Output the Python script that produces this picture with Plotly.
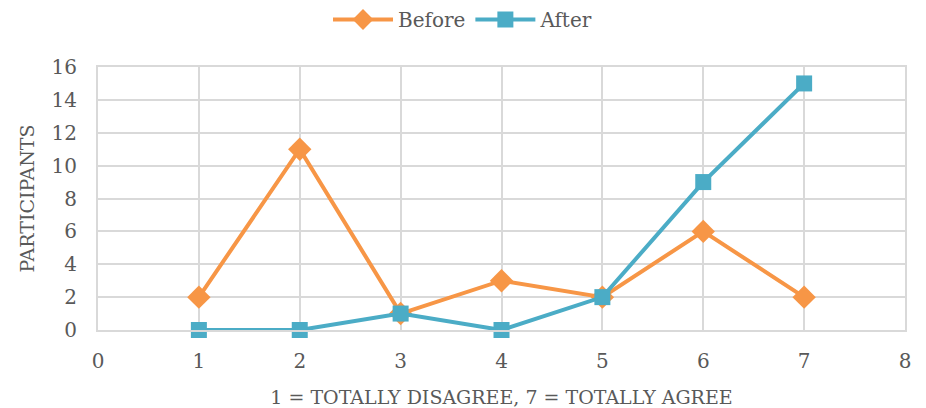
import plotly.graph_objects as go

# Survey responses on a 1-7 agreement scale
scale = [1, 2, 3, 4, 5, 6, 7]
before = [2, 11, 1, 3, 2, 6, 2]
after = [0, 0, 1, 0, 2, 9, 15]

x_ticks = [0, 1, 2, 3, 4, 5, 6, 7, 8]
y_ticks = [0, 2, 4, 6, 8, 10, 12, 14, 16]

ORANGE = "#F79646"
BLUE = "#4BACC6"
GRID = "#D9D9D9"
TEXT = "#595959"
FONT = "DejaVu Serif"

fig = go.Figure()
fig.add_trace(go.Scatter(
    x=scale, y=before, name="Before", mode="lines+markers",
    line=dict(color=ORANGE, width=4), cliponaxis=False,
    marker=dict(symbol="diamond", size=18, color=ORANGE),
))
fig.add_trace(go.Scatter(
    x=scale, y=after, name="After", mode="lines+markers",
    line=dict(color=BLUE, width=4), cliponaxis=False,
    marker=dict(symbol="square", size=16, color=BLUE),
))

fig.update_layout(
    width=926, height=408,
    margin=dict(l=98, r=21, t=67, b=78),
    paper_bgcolor="white", plot_bgcolor="white",
    font=dict(family=FONT, size=19, color=TEXT),
    legend=dict(orientation="h", x=0.5, xref="container", xanchor="center",
                y=1.0, yref="container", yanchor="top", itemwidth=60,
                font=dict(family=FONT, size=20, color=TEXT)),
    xaxis=dict(
        range=[0, 8], tickvals=x_ticks, ticktext=[str(v) for v in x_ticks],
        showgrid=True, gridcolor=GRID, gridwidth=2,
        showline=True, linecolor=GRID, linewidth=2, mirror=True,
        zeroline=False, ticks="outside", ticklen=12, tickcolor="rgba(0,0,0,0)",
        tickfont=dict(family=FONT, size=20, color=TEXT), automargin=False,
        title=dict(text="1 = TOTALLY DISAGREE, 7 = TOTALLY AGREE",
                   font=dict(family=FONT, size=19, color=TEXT), standoff=20),
    ),
    yaxis=dict(
        range=[0, 16], tickvals=y_ticks, ticktext=[str(v) for v in y_ticks],
        showgrid=True, gridcolor=GRID, gridwidth=2,
        showline=True, linecolor=GRID, linewidth=2, mirror=True,
        zeroline=False, ticks="outside", ticklen=15, tickcolor="rgba(0,0,0,0)",
        tickfont=dict(family=FONT, size=20, color=TEXT), automargin=False,
        title=dict(text="PARTICIPANTS",
                   font=dict(family=FONT, size=19, color=TEXT), standoff=12),
    ),
)

fig.write_html("out.html")
